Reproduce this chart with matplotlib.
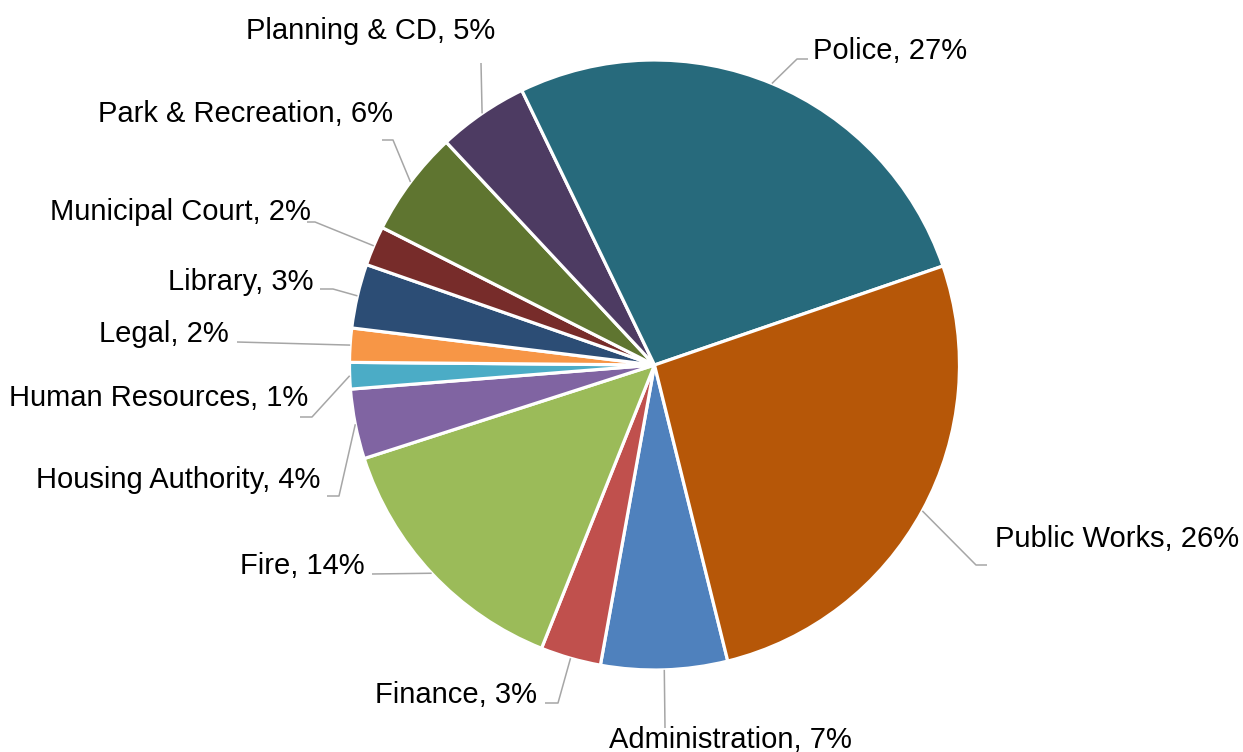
import numpy as np
import matplotlib
matplotlib.use("Agg")
import matplotlib.pyplot as plt

# ---- data ----
categories = ["Administration", "Finance", "Fire", "Housing Authority",
              "Human Resources", "Legal", "Library", "Municipal Court",
              "Park & Recreation", "Planning & CD", "Police", "Public Works"]
values = [6.7, 3.2, 14.0, 3.7, 1.4, 1.8, 3.4, 2.1, 5.6, 4.8, 26.9, 26.4]
colors = ["#4F81BD", "#C0504D", "#9BBB59", "#8064A2", "#4BACC6", "#F79646",
          "#2C4D75", "#772C2A", "#5F7530", "#4D3B62", "#276A7C", "#B65708"]

# ---- label layout (pixel positions of text anchor, leader elbow, leader end) ----
# (text_x, text_baseline_y, ha, elbow, end)
label_layout = [
    (730, 748, "center", None, (665, 728)),
    (537, 703, "right", (558, 703), (545, 703)),
    (365, 574, "right", None, (372, 574)),
    (320, 488, "right", (339, 496), (327, 496)),
    (308, 406, "right", (312, 417), (300, 417)),
    (229, 342, "right", None, (237, 342)),
    (314, 290, "right", (333, 289), (320, 289)),
    (311, 220, "right", (315, 222), (307, 222)),
    (393, 122, "right", (393, 140), (382, 140)),
    (371, 39, "center", None, (481, 63)),
    (813, 59, "left", (797, 59), (808, 59)),
    (995, 547, "left", (976, 565), (987, 565)),
]

W, H = 1243, 752
CX, CY, R = 654.5, 365.0, 305.0


def px2d(p):
    return ((p[0] - CX) / R, (CY - p[1]) / R)


fig = plt.figure(figsize=(W / 100, H / 100), dpi=100)
ax = fig.add_axes([0, 0, 1, 1])
wedges, _ = ax.pie(values, colors=colors, startangle=-76.1, counterclock=False,
                   radius=1.0, center=(0, 0),
                   wedgeprops=dict(edgecolor="white", linewidth=2.3))
ax.set_xlim(px2d((0, 0))[0], px2d((W, 0))[0])
ax.set_ylim(px2d((0, H))[1], px2d((0, 0))[1])
ax.set_aspect("auto")
ax.axis("off")

total = sum(values)
for w, name, val, lay in zip(wedges, categories, values, label_layout):
    tx, ty, ha, elbow, end = lay
    mid = np.deg2rad((w.theta1 + w.theta2) / 2)
    start = (np.cos(mid) * 1.0, np.sin(mid) * 1.0)
    pts = [start]
    if elbow is not None:
        pts.append(px2d(elbow))
    pts.append(px2d(end))
    xs, ys = zip(*pts)
    ax.plot(xs, ys, color="#A6A6A6", linewidth=1.1, solid_capstyle="butt", zorder=1)
    pct = round(val / total * 100)
    x, y = px2d((tx, ty))
    ax.text(x, y, f"{name}, {pct}%", ha=ha, va="baseline", fontsize=21,
            family=["Liberation Sans", "DejaVu Sans"], color="black", zorder=3)

fig.savefig("out.png", dpi=100, facecolor="white")
